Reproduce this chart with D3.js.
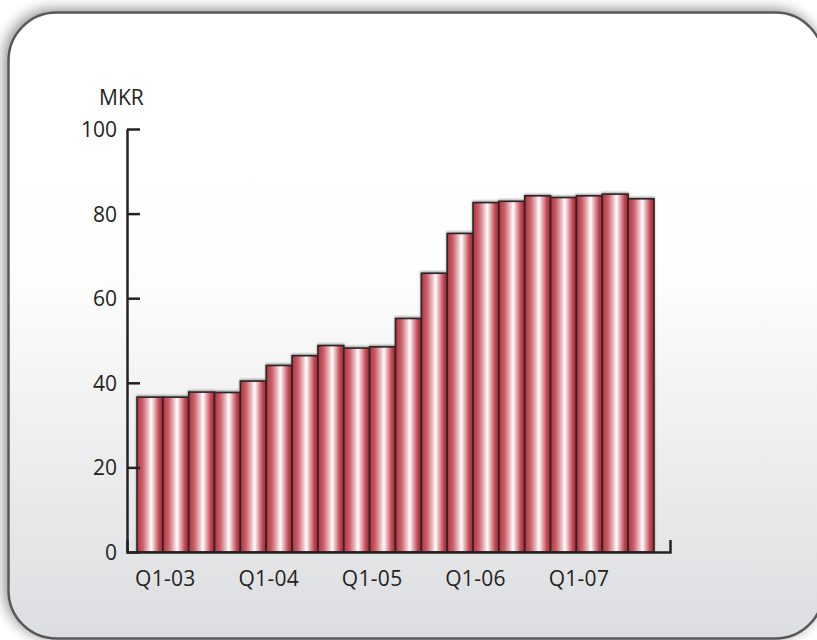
<!DOCTYPE html>
<html>
<head>
<meta charset="utf-8">
<script src="https://cdn.jsdelivr.net/npm/d3@7"></script>
<style>
  html, body { margin: 0; padding: 0; background: #fff; }
  svg { display: block; font-family: "Open Sans", sans-serif; }
  .axis path, .axis line { stroke: #262223; stroke-width: 2.5; }
  .axis text, .lbl { fill: #231f20; font-size: 21px; font-family: "Open Sans", sans-serif; }
</style>
</head>
<body>
<svg id="chart"></svg>
<script>
// quarters, Q1-03 .. Q4-07
const quarters = [
  'Q1-03', 'Q2-03', 'Q3-03', 'Q4-03',
  'Q1-04', 'Q2-04', 'Q3-04', 'Q4-04',
  'Q1-05', 'Q2-05', 'Q3-05', 'Q4-05',
  'Q1-06', 'Q2-06', 'Q3-06', 'Q4-06',
  'Q1-07', 'Q2-07', 'Q3-07', 'Q4-07'
]

// MKR per quarter
const values = [
  36.6, 36.6, 37.8, 37.7,
  40.4, 44.1, 46.4, 48.8,
  48.2, 48.5, 55.2, 65.9,
  75.3, 82.6, 82.9, 84.2,
  83.8, 84.2, 84.6, 83.5
]

const xLabels = ['Q1-03', 'Q1-04', 'Q1-05', 'Q1-06', 'Q1-07']
const yTicks = [0, 20, 40, 60, 80, 100]
const unit = 'MKR'

const width = 817
const height = 640

const svg = d3.select('#chart')
  .attr('width', width)
  .attr('height', height)

const defs = svg.append('defs')

// panel background, white fading to grey
const bg = defs.append('linearGradient')
  .attr('id', 'panelFill')
  .attr('x1', 0).attr('y1', 0).attr('x2', 0).attr('y2', 1)
bg.append('stop').attr('offset', '0%').attr('stop-color', '#ffffff')
bg.append('stop').attr('offset', '40%').attr('stop-color', '#fefefe')
bg.append('stop').attr('offset', '100%').attr('stop-color', '#dcdde0')

// cylinder look for the bars
const barGrad = defs.append('linearGradient')
  .attr('id', 'barFill')
  .attr('x1', 0).attr('y1', 0).attr('x2', 1).attr('y2', 0)
const barStops = [
  ['0%', '#b3313f'],
  ['22%', '#c9606b'],
  ['42%', '#eab9bd'],
  ['55%', '#ffffff'],
  ['67%', '#e9b3b8'],
  ['85%', '#c04955'],
  ['100%', '#a3222f']
]
barStops.forEach(s => barGrad.append('stop').attr('offset', s[0]).attr('stop-color', s[1]))

const shadow = defs.append('filter')
  .attr('id', 'panelShadow')
  .attr('x', '-10%').attr('y', '-10%').attr('width', '120%').attr('height', '120%')
shadow.append('feGaussianBlur').attr('in', 'SourceAlpha').attr('stdDeviation', 7)
shadow.append('feOffset').attr('dx', -3).attr('dy', -2).attr('result', 'blur')
shadow.append('feComponentTransfer').append('feFuncA').attr('type', 'linear').attr('slope', 0.45)
const merge = shadow.append('feMerge')
merge.append('feMergeNode')
merge.append('feMergeNode').attr('in', 'SourceGraphic')

const barShadow = defs.append('filter')
  .attr('id', 'barShadow')
  .attr('x', '-10%').attr('y', '-10%').attr('width', '120%').attr('height', '120%')
barShadow.append('feGaussianBlur').attr('in', 'SourceAlpha').attr('stdDeviation', 1.2)
barShadow.append('feOffset').attr('dx', 0).attr('dy', -1)
barShadow.append('feComponentTransfer').append('feFuncA').attr('type', 'linear').attr('slope', 0.4)
const bmerge = barShadow.append('feMerge')
bmerge.append('feMergeNode')
bmerge.append('feMergeNode').attr('in', 'SourceGraphic')

// rounded panel
svg.append('rect')
  .attr('x', 8.5)
  .attr('y', 12.5)
  .attr('width', 815)
  .attr('height', 626)
  .attr('rx', 48)
  .attr('fill', 'url(#panelFill)')
  .attr('stroke', '#58585a')
  .attr('stroke-width', 2.5)
  .attr('filter', 'url(#panelShadow)')

const x = d3.scaleBand()
  .domain(quarters)
  .range([137, 654])

const y = d3.scaleLinear()
  .domain([0, 100])
  .range([552, 129])

const xLine = d3.scaleLinear()
  .domain([0, 1])
  .range([127, 670])

// bars
svg.append('g')
  .attr('filter', 'url(#barShadow)')
  .selectAll('rect')
  .data(values)
  .join('rect')
    .attr('x', (d, i) => x(quarters[i]))
    .attr('y', d => y(d))
    .attr('width', x.bandwidth())
    .attr('height', d => y(0) - y(d))
    .attr('fill', 'url(#barFill)')
    .attr('stroke', '#2b2526')
    .attr('stroke-width', 1.6)

// y axis, ticks pointing into the plot
svg.append('g')
  .attr('class', 'axis')
  .attr('transform', 'translate(127, 0)')
  .call(d3.axisLeft(y)
    .tickValues(yTicks)
    .tickSizeInner(-13)
    .tickSizeOuter(0)
    .tickPadding(10))
  .call(g => g.selectAll('text').attr('dy', '0.36em'))

// x axis line with end ticks
svg.append('g')
  .attr('class', 'axis')
  .attr('transform', 'translate(0, 552)')
  .call(d3.axisBottom(xLine).tickValues([]).tickSizeOuter(-12))

// quarter labels
svg.append('g')
  .selectAll('text')
  .data(xLabels)
  .join('text')
    .attr('class', 'lbl')
    .attr('x', d => x(d) + x.bandwidth() + 2.5)
    .attr('y', 586)
    .attr('text-anchor', 'middle')
    .style('letter-spacing', '0.3px')
    .text(d => d)

svg.append('text')
  .attr('class', 'lbl')
  .attr('x', 99)
  .attr('y', 105)
  .text(unit)
</script>
</body>
</html>
